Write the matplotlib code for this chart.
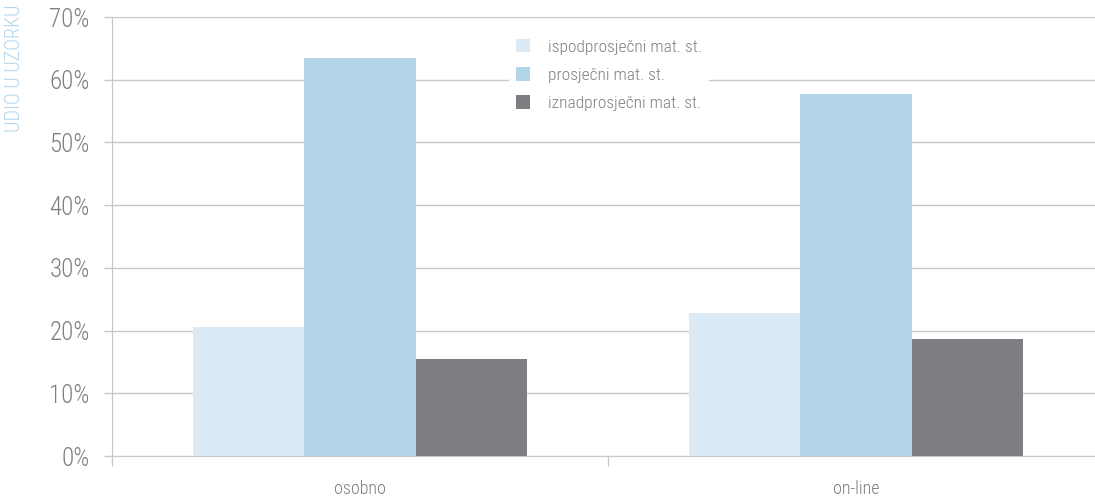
import numpy as np
import matplotlib
matplotlib.use('Agg')
import matplotlib.pyplot as plt
from matplotlib import font_manager

# podaci
categories = ['osobno', 'on-line']
series_names = ['ispodprosječni mat. st.', 'prosječni mat. st.', 'iznadprosječni mat. st.']
ispod = [20.6, 22.8]
prosjek = [63.5, 57.7]
iznad = [15.5, 18.7]
yticks = [0, 10, 20, 30, 40, 50, 60, 70]

colors = ['#dbeaf5', '#b3d5ea', '#7e7d82']
names = {f.name for f in font_manager.fontManager.ttflist}
fam = [f for f in ['Roboto Condensed', 'Liberation Sans Narrow', 'DejaVu Sans'] if f in names]
plt.rcParams['font.family'] = fam
txt = '#7f7f7f'
grid = '#c8c8cc'

fig = plt.figure(figsize=(10.95, 4.98), dpi=100)
ax = fig.add_axes([112 / 1095, 1 - 456 / 498, 1 - 112 / 1095, (456 - 17) / 498])

x = np.arange(len(categories))
w = 0.224
for i, vals in enumerate([ispod, prosjek, iznad]):
    ax.bar(x + (i - 1) * w, vals, w, color=colors[i], label=series_names[i], zorder=3)

ax.set_ylim(0, 70)
ax.set_xlim(-0.5, -0.5 + (1095 - 112) / 496)
ax.set_yticks(yticks)
ax.set_yticklabels(['%d%%' % v for v in yticks], fontweight='light')
ax.yaxis.grid(True, color=grid, lw=1, zorder=0)

ax.set_xticks([-0.5, 0.5])
ax.set_xticklabels(['', ''])
ax.set_xticks(x, minor=True)
ax.set_xticklabels(categories, minor=True, fontweight='light')
ax.tick_params(axis='x', which='major', length=7, color=grid, width=1)
ax.tick_params(axis='x', which='minor', length=0, pad=17, labelsize=13, labelcolor=txt)
ax.tick_params(axis='y', length=6, color=grid, width=1, pad=10, labelsize=18, labelcolor=txt)

for s in ['top', 'right']:
    ax.spines[s].set_visible(False)
ax.spines['left'].set_color(grid)
ax.spines['bottom'].set_color(grid)

leg = ax.legend(loc='upper left', bbox_to_anchor=((500 - 112) / 983, 1 - (23 - 17) / 439),
                frameon=True, handlelength=0.85, handleheight=0.85,
                handletextpad=1.0, labelspacing=0.72, borderpad=0.4,
                prop={'size': 12.5, 'weight': 'light'})
leg.get_frame().set_edgecolor('none')
leg.get_frame().set_facecolor('white')
leg.get_frame().set_alpha(1)
for t in leg.get_texts():
    t.set_color(txt)

fig.text(15 / 1095, 1 - 4 / 498, 'UDIO U UZORKU', rotation=90, ha='center', va='top',
         color='#b3d5ea', fontsize=14.5, fontweight='light')

fig.savefig('out.png', dpi=100)
